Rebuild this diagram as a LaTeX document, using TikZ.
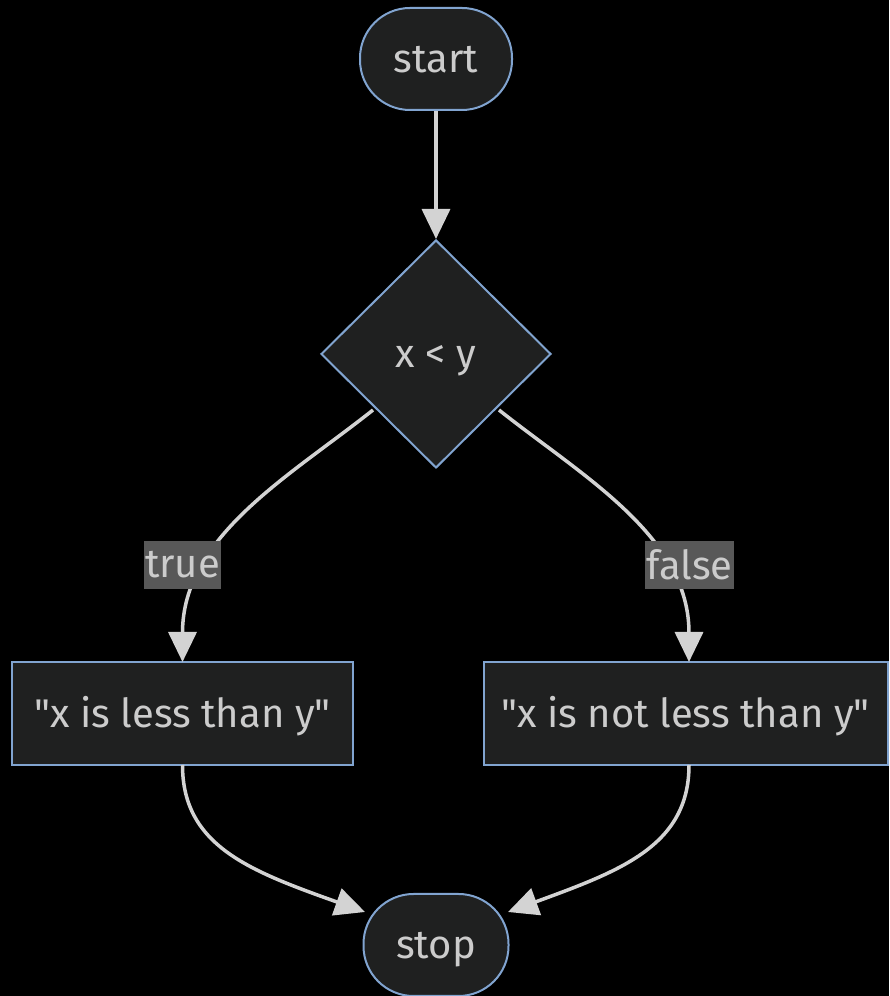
\documentclass[tikz,border=0pt]{standalone}
\usepackage{fontspec}
\newfontfamily\diagfont{Fira Sans}
\usetikzlibrary{shapes.geometric,arrows.meta}
\definecolor{nodefill}{HTML}{1F2020}
\definecolor{nodeline}{HTML}{81A4D0}
\definecolor{nodetext}{HTML}{CCCCCC}
\definecolor{edgeline}{HTML}{D3D3D3}
\definecolor{labelfill}{HTML}{585858}
\begin{document}
\begin{tikzpicture}[x=1pt,y=1pt,
  base/.style={draw=nodeline,line width=2pt,fill=nodefill,text=nodetext,
    font=\diagfont\fontsize{40}{44}\selectfont,inner sep=0pt,
    text height=28pt,text depth=0pt},
  terminal/.style={base,rectangle,rounded corners=50pt,minimum height=102pt},
  decision/.style={base,diamond,aspect=1,minimum width=230pt,minimum height=228pt},
  process/.style={base,rectangle,minimum height=103pt},
  edgelabel/.style={fill=labelfill,text=nodetext,inner xsep=1pt,inner ysep=0pt,
    font=\diagfont\fontsize{40}{44}\selectfont,minimum height=48pt},
  flow/.style={draw=edgeline,line width=3.5pt,
    -{Triangle[length=30pt,width=28pt]}}]
  % canvas
  \fill[black] (0,0) rectangle (889,996);
  \useasboundingbox (0,0) rectangle (889,996);

  % nodes
  \node[terminal,minimum width=152pt] (start) at (436,937) {start};
  \node[decision] (cond) at (436,642) {x < y};
  \node[process,minimum width=341pt] (yes) at (182.5,282.5) {"x is less than y"};
  \node[process,minimum width=404pt] (no) at (685.5,282.5) {"x is not less than y"};
  \node[terminal,minimum width=145pt] (stop) at (436,51) {stop};

  % connection points
  \coordinate (cl) at (373,586);
  \coordinate (cr) at (499,586);
  \coordinate (yt) at (182.5,334);
  \coordinate (nt) at (689,334);
  \coordinate (yb) at (182.5,231);
  \coordinate (nb) at (689,231);
  \coordinate (sl) at (365,84);
  \coordinate (sr) at (508,84);

  % connectors
  \draw[flow] (start.south) -- (cond.north);
  \draw[flow] (cl) .. controls (290,520) and (182.5,460) .. (yt);
  \draw[flow] (cr) .. controls (582,520) and (689,460) .. (nt);
  \draw[flow] (yb) .. controls (182.5,150) and (250,125) .. (sl);
  \draw[flow] (nb) .. controls (689,150) and (620,125) .. (sr);

  % branch labels
  \node[edgelabel] (ltrue) at (182.5,431) {true};
  \node[edgelabel] (lfalse) at (689.5,431) {false};
\end{tikzpicture}
\end{document}
